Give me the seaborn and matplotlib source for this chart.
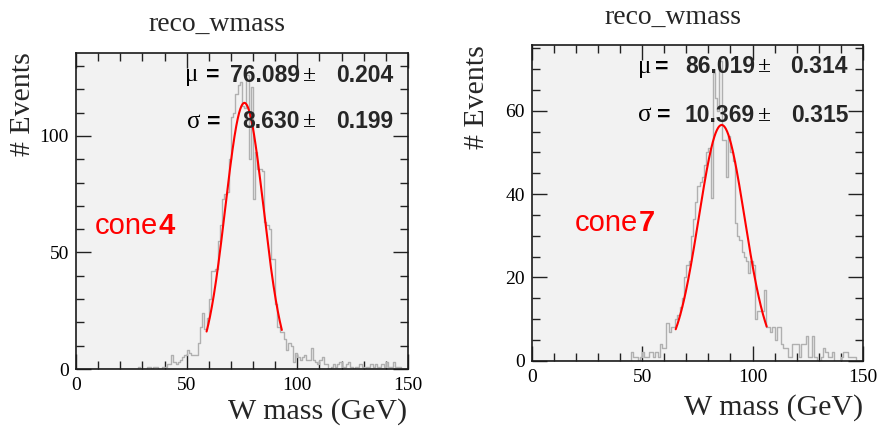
import numpy as np
import pandas as pd
import matplotlib
matplotlib.use("Agg")
import matplotlib.pyplot as plt
import seaborn as sns
from matplotlib.ticker import MultipleLocator

sns.set_theme(style="ticks")
plt.rcParams["font.family"] = ["Liberation Serif", "DejaVu Serif"]

# 1 GeV bins from 0 to 150 GeV
mass_edges = list(range(0, 151))

cone4_counts = (
    [0] * 28
    + [1, 0, 0, 0, 1, 1, 0, 1, 1, 0, 0, 1, 1, 2, 2, 6, 3]
    + [2, 3, 4, 5, 6, 8, 7, 6, 6, 6, 11, 18, 24, 17, 22]
    + [30, 42, 42, 43, 55, 62, 73, 75, 76, 90]
    + [108, 110, 118, 122, 123, 113, 112, 126, 90, 121]
    + [73, 93, 86, 86, 85, 63, 62, 60, 47, 47]
    + [28, 18, 16, 16, 13, 8, 11, 10, 3, 7]
    + [5, 4, 5, 6, 4, 4, 9, 4, 3, 2]
    + [4, 5, 2, 2, 0, 1, 2, 1, 2, 3]
    + [1, 1, 2, 3, 1, 0, 1, 1, 2, 1]
    + [0, 1, 1, 2, 1, 2, 1, 1, 2, 1]
    + [3, 1, 1, 3, 1, 1, 1, 0, 0, 0]
)

cone7_counts = (
    [0] * 45
    + [2, 1, 1, 0, 1, 2, 1, 1, 2, 2, 1, 2, 1, 4, 3]
    + [3, 9, 7, 8, 8, 10, 11, 13, 15, 20]
    + [23, 24, 30, 34, 38, 42, 43, 44, 47, 50]
    + [51, 39, 69, 63, 60, 72, 53, 53, 44, 54]
    + [50, 48, 33, 30, 29, 26, 25, 24, 21, 24]
    + [23, 10, 12, 12, 12, 17, 8, 8, 7, 8]
    + [5, 8, 8, 4, 3, 3, 1, 1, 4, 4]
    + [4, 1, 4, 4, 6, 1, 1, 6, 1, 0]
    + [0, 1, 3, 2, 1, 1, 2, 0, 0, 0]
    + [1, 2, 2, 1, 1, 1, 1, 0, 0, 0]
)

# Gaussian fit results per jet cone
cone_labels = ["4", "7"]
fit_mu = [76.089, 86.019]
fit_mu_err = [0.204, 0.314]
fit_sigma = [8.630, 10.369]
fit_sigma_err = [0.199, 0.315]
fit_amp = [114.2, 56.6]
fit_lo = [59.0, 65.2]
fit_hi = [93.0, 106.4]

hist_title = "reco_wmass"
x_title = "W mass (GeV)"
y_title = "# Events"

W, H = 879, 433
fig = plt.figure(figsize=(W / 100, H / 100), dpi=100)
fig.patch.set_facecolor("white")


def px_box(x0, y0, x1, y1):
    return [x0 / W, 1 - y1 / H, (x1 - x0) / W, (y1 - y0) / H]


panels = [
    dict(box=px_box(76, 53, 408, 369), ymax=135.6, ymaj=50, ymin=10,
         counts=cone4_counts, title_xy=(217, 24), ylab_xy=(23, 52),
         xlab_xy=(407, 412),
         mu_pos=(0.327, 0.391, 0.675, 0.702, 0.955, 0.930),
         sg_pos=(0.333, 0.395, 0.675, 0.702, 0.955, 0.782),
         cone_xy=(0.057, 0.453)),
    dict(box=px_box(531.7, 45, 863, 360.7), ymax=75.8, ymaj=20, ymin=5,
         counts=cone7_counts, title_xy=(673, 17), ylab_xy=(477, 45),
         xlab_xy=(863, 408),
         mu_pos=(0.321, 0.373, 0.674, 0.704, 0.955, 0.931),
         sg_pos=(0.321, 0.377, 0.674, 0.704, 0.955, 0.778),
         cone_xy=(0.131, 0.436)),
]

sans = ["Liberation Sans", "DejaVu Sans"]
serif = ["Liberation Serif", "DejaVu Serif"]
edges = np.array(mass_edges, dtype=float)
centers = 0.5 * (edges[:-1] + edges[1:])

for i, p in enumerate(panels):
    ax = fig.add_axes(p["box"])
    ax.set_facecolor("#f2f2f2")
    df = pd.DataFrame({"mass": centers, "n": p["counts"]})
    sns.histplot(data=df, x="mass", weights="n",
                 binwidth=1, binrange=(mass_edges[0], mass_edges[-1]),
                 element="step", fill=False, color="#b0b0b0",
                 linewidth=1.0, ax=ax)

    xs = np.linspace(fit_lo[i], fit_hi[i], 300)
    ys = fit_amp[i] * np.exp(-0.5 * ((xs - fit_mu[i]) / fit_sigma[i]) ** 2)
    sns.lineplot(x=xs, y=ys, color="#ff0000", linewidth=1.5, ax=ax)

    ax.set_xlim(0, 150)
    ax.set_ylim(0, p["ymax"])
    ax.set_xlabel("")
    ax.set_ylabel("")
    ax.xaxis.set_major_locator(MultipleLocator(50))
    ax.xaxis.set_minor_locator(MultipleLocator(10))
    ax.yaxis.set_major_locator(MultipleLocator(p["ymaj"]))
    ax.yaxis.set_minor_locator(MultipleLocator(p["ymin"]))
    ax.tick_params(which="both", direction="in", top=True, right=True,
                   colors="#222222", labelcolor="black", width=1.0)
    ax.tick_params(which="major", length=11)
    ax.tick_params(which="minor", length=5.5)
    ax.tick_params(axis="x", pad=6)
    ax.tick_params(axis="y", pad=5)
    for lab in ax.get_xticklabels() + ax.get_yticklabels():
        lab.set_fontfamily(serif)
        lab.set_fontsize(14)
    for s in ax.spines.values():
        s.set_visible(True)
        s.set_color("#1a1a1a")
        s.set_linewidth(1.2)

    # titles and axis captions
    fig.text(p["title_xy"][0] / W, 1 - p["title_xy"][1] / H, hist_title,
             ha="center", va="center", fontsize=20, family=serif)
    fig.text(p["ylab_xy"][0] / W, 1 - p["ylab_xy"][1] / H, y_title,
             rotation=90, ha="center", va="top", fontsize=21.5, family=serif)
    fig.text(p["xlab_xy"][0] / W, 1 - p["xlab_xy"][1] / H, x_title,
             ha="right", va="center", fontsize=21.5, family=serif)

    # fit result box
    for sym, val, err, pos in (("\u03bc", fit_mu[i], fit_mu_err[i], p["mu_pos"]),
                               ("\u03c3", fit_sigma[i], fit_sigma_err[i], p["sg_pos"])):
        x_sym, x_eq, x_val, x_pm, x_err, y = pos
        ax.text(x_sym, y, sym, transform=ax.transAxes, ha="left", va="center",
                fontsize=18, family=serif, color="black")
        ax.text(x_eq, y, "=", transform=ax.transAxes, ha="left", va="center",
                fontsize=16.5, family=sans, weight="bold", color="black")
        ax.text(x_val, y, f"{val:.3f}", transform=ax.transAxes, ha="right",
                va="center", fontsize=16.5, family=sans, weight="bold")
        ax.text(x_pm, y, "\u00b1", transform=ax.transAxes, ha="center",
                va="center", fontsize=17, family=serif, color="black")
        ax.text(x_err, y, f"{err:.3f}", transform=ax.transAxes, ha="right",
                va="center", fontsize=16.5, family=sans, weight="bold")

    t = ax.text(p["cone_xy"][0], p["cone_xy"][1], "cone", transform=ax.transAxes,
                ha="left", va="center", fontsize=21, family=sans, color="#ff0000")
    ax.annotate(cone_labels[i], xy=(1, 0), xycoords=t, xytext=(0.3, 0),
                textcoords="offset points", ha="left", va="bottom",
                fontsize=21, family=sans, weight="bold", color="#ff0000")

fig.savefig("out.png", dpi=100, facecolor="white")
